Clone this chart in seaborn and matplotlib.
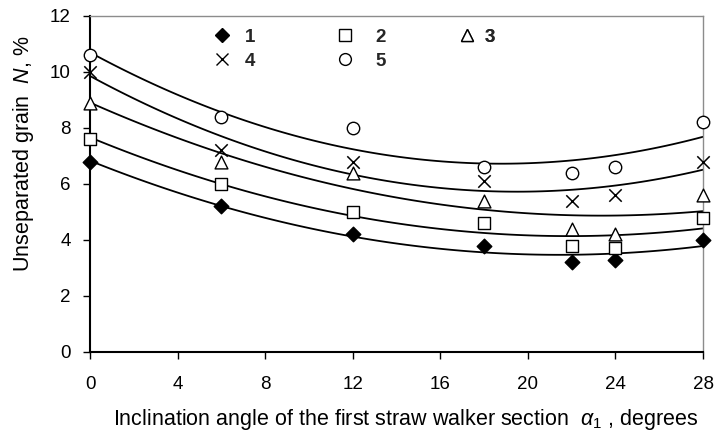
import matplotlib
matplotlib.use("Agg")
import matplotlib.pyplot as plt
import seaborn as sns
import pandas as pd
from matplotlib.lines import Line2D

angle = [0, 6, 12, 18, 22, 24, 28]
s1 = [6.8, 5.2, 4.2, 3.8, 3.2, 3.3, 4.0]
s2 = [7.6, 6.0, 5.0, 4.6, 3.8, 3.7, 4.8]
s3 = [8.9, 6.8, 6.4, 5.4, 4.4, 4.2, 5.6]
s4 = [10.0, 7.2, 6.8, 6.1, 5.4, 5.6, 6.8]
s5 = [10.6, 8.4, 8.0, 6.6, 6.4, 6.6, 8.2]
labels = ["1", "2", "3", "4", "5"]
xticks = [0, 4, 8, 12, 16, 20, 24, 28]
yticks = [0, 2, 4, 6, 8, 10, 12]

sns.set_theme(style="white")
plt.rcParams["font.family"] = ["Liberation Sans", "DejaVu Sans"]
plt.rcParams["mathtext.fontset"] = "custom"
plt.rcParams["mathtext.rm"] = "Liberation Sans"
plt.rcParams["mathtext.it"] = "Liberation Sans:italic"

fig = plt.figure(figsize=(7.15, 4.34), dpi=100)
ax = fig.add_axes([90/715, (434-352)/434, (703-90)/715, (352-16)/434])

series = [s1, s2, s3, s4, s5]
styles = [
    dict(marker="D", s=55, facecolor="black", edgecolor="black", linewidths=1.0),
    dict(marker="s", s=70, facecolor="white", edgecolor="black", linewidths=1.0),
    dict(marker="^", s=85, facecolor="white", edgecolor="black", linewidths=1.0),
    dict(marker="x", s=80, color="black", linewidths=1.1),
    dict(marker="o", s=80, facecolor="white", edgecolor="black", linewidths=1.0),
]
handles = []
for vals, st, lab in zip(series, styles, labels):
    df = pd.DataFrame({"a": angle, "n": vals})
    sns.regplot(data=df, x="a", y="n", order=2, ci=None, scatter=False, ax=ax,
                truncate=True, line_kws=dict(color="black", lw=1.3))
    sns.scatterplot(data=df, x="a", y="n", ax=ax, zorder=5, legend=False,
                    clip_on=False, **st)
    mk = st["marker"]
    fc = st.get("facecolor", "black") if mk != "x" else "black"
    handles.append(Line2D([], [], ls="none", marker=mk, markersize=8.5 if mk != "D" else 7,
                          markerfacecolor=fc, markeredgecolor="black", markeredgewidth=1.0,
                          color="black", label=lab))

# legend columns laid out like the original (row-wise 1 2 3 / 4 5)
fs_leg = 13.5
em = fs_leg * 100 / 72.0
hl = 1.2
cols = [([0, 3], 222.3, 245), ([1, 4], 345, 375), ([2], 467, 485)]
top_frac = (352 - 28.9) / 336
for idx, mx, lx in cols:
    x0 = mx - hl * em / 2
    htp = (lx - x0 - hl * em) / em
    lg = ax.legend([handles[i] for i in idx], [labels[i] for i in idx],
                   loc="upper left", bbox_to_anchor=((x0 - 90) / 613, top_frac),
                   frameon=False, prop=dict(weight="bold", size=fs_leg),
                   handlelength=hl, handletextpad=htp, labelspacing=0.35,
                   borderpad=0, borderaxespad=0)
    ax.add_artist(lg)

ax.set_xlim(0, 28)
ax.set_ylim(0, 12)
ax.set_xticks(xticks)
ax.set_yticks(yticks)
ax.tick_params(axis="both", labelsize=13.5, colors="black", direction="out", length=5, width=1)
ax.tick_params(axis="x", pad=12.5)
ax.tick_params(axis="y", pad=9)
ax.xaxis.set_ticks_position("bottom")
ax.yaxis.set_ticks_position("left")
for side in ["left", "bottom"]:
    ax.spines[side].set_color("black")
    ax.spines[side].set_linewidth(1.5)
for side in ["top", "right"]:
    ax.spines[side].set_visible(True)
    ax.spines[side].set_color("#8c8c8c")
    ax.spines[side].set_linewidth(1.0)

ax.set_xlabel(r"Inclination angle of the first straw walker section  $\alpha_1$ , degrees",
              fontsize=15.5, color="black", va="center")
ax.set_ylabel(r"Unseparated grain  $\mathit{N}$, %", fontsize=15.5, color="black", va="center")
ax.xaxis.set_label_coords((405.5 - 90) / 613, -(420 - 352) / 336)
ax.yaxis.set_label_coords(-(90 - 24) / 613, (352 - 154) / 336)

fig.savefig("out.png", dpi=100)
